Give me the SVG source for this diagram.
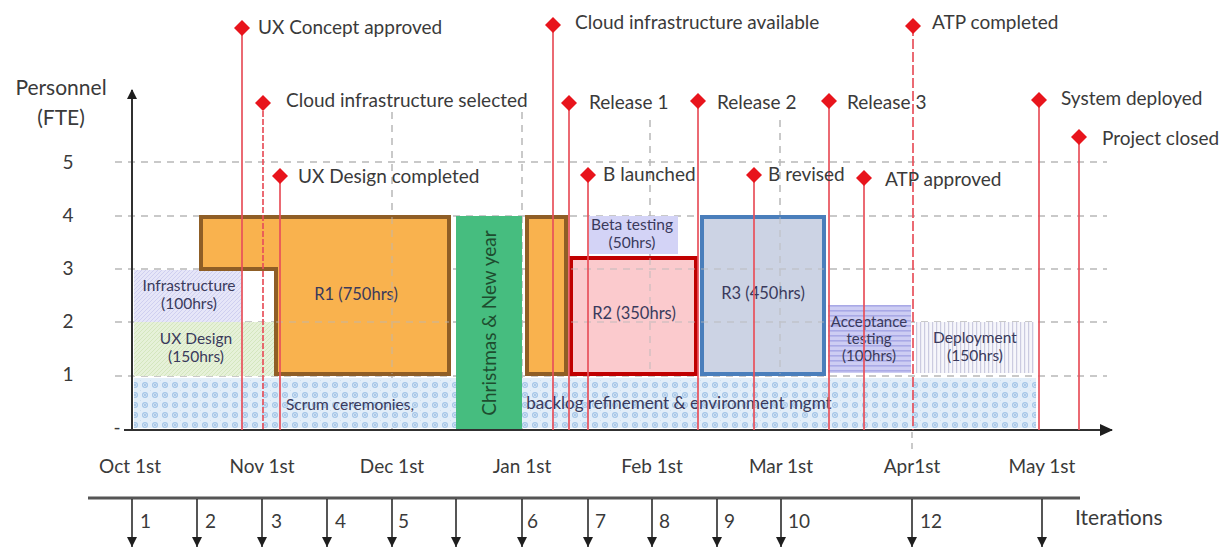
<svg xmlns="http://www.w3.org/2000/svg" width="1230" height="548" viewBox="0 0 1230 548">
  <style>
    .lbl { font-family: Lato, "Liberation Sans", sans-serif; fill: #3a3a3a; }
    .ms { font-size: 19px; }
    .axis { font-size: 19px; }
    .box { font-family: Lato, "Liberation Sans", sans-serif; font-size: 15.5px; fill: #3a3a5c; text-anchor: middle; }
    .grid { stroke: #b8b8b8; stroke-width: 1.5; stroke-dasharray: 7 6; fill: none; }
    .mline { stroke: #e8505a; stroke-width: 2; stroke-opacity: 0.85; fill: none; }
    .dash { stroke-dasharray: 10 3; }
    .iter { stroke: #2b2b2b; stroke-width: 1.6; marker-end: url(#headDown); }
  </style>
  <defs>
    <path id="dia" d="M0,-8 L8,0 L0,8 L-8,0Z" fill="#e8141c"/>
    <marker id="headDown" markerWidth="10" markerHeight="10" refX="10" refY="5" orient="auto" markerUnits="userSpaceOnUse">
      <path d="M0,0 L10,5 L0,10Z" fill="#1e1e1e"/>
    </marker>
    <marker id="arrow" markerWidth="14" markerHeight="12" refX="12" refY="6" orient="auto" markerUnits="userSpaceOnUse">
      <path d="M0,0 L13,6 L0,12Z" fill="#1e1e1e"/>
    </marker>
    <marker id="arrowS" markerWidth="10" markerHeight="10" refX="9" refY="5" orient="auto" markerUnits="userSpaceOnUse">
      <path d="M0,0 L10,5 L0,10Z" fill="#1e1e1e"/>
    </marker>
    <pattern id="scrum" width="10" height="10" patternUnits="userSpaceOnUse">
      <rect width="10" height="10" fill="#e2eef9"/>
      <circle cx="5" cy="5" r="2.4" fill="none" stroke="#a4c6e8" stroke-width="1.2"/>
      <circle cx="5" cy="5" r="0.9" fill="#94b8de"/>
      <circle cx="0" cy="0" r="0.8" fill="#b4d0ec"/>
    </pattern>
    <pattern id="infra" width="4" height="4" patternUnits="userSpaceOnUse">
      <rect width="4" height="4" fill="#e6e6f8"/>
      <path d="M0,4 L4,0" stroke="#c9c9ee" stroke-width="0.8"/>
    </pattern>
    <pattern id="uxd" width="4" height="4" patternUnits="userSpaceOnUse">
      <rect width="4" height="4" fill="#e6f1d9"/>
      <path d="M0,4 L4,0" stroke="#cfe3b8" stroke-width="0.8"/>
    </pattern>
    <pattern id="accept" width="6" height="5" patternUnits="userSpaceOnUse">
      <rect width="6" height="5" fill="#cdcdf3"/>
      <rect y="0" width="6" height="1.6" fill="#a9a9e6"/>
    </pattern>
    <pattern id="deploy" width="4" height="6" patternUnits="userSpaceOnUse">
      <rect width="4" height="6" fill="#f6f6fb"/>
      <rect x="0" width="1.2" height="6" fill="#cbcbe0"/>
    </pattern>
  </defs>

  <rect width="1230" height="548" fill="#ffffff"/>

  <!-- background grid -->
  <g id="grid">
    <line class="grid" x1="115" y1="162" x2="1107" y2="162"/>
    <line class="grid" x1="115" y1="216" x2="1107" y2="216"/>
    <line class="grid" x1="115" y1="269" x2="1107" y2="269"/>
    <line class="grid" x1="115" y1="322" x2="1107" y2="322"/>
    <line class="grid" x1="115" y1="376" x2="1107" y2="376"/>
    <line class="grid" x1="392" y1="112" x2="392" y2="430"/>
    <line class="grid" x1="522" y1="112" x2="522" y2="430"/>
    <line class="grid" x1="650" y1="120" x2="650" y2="430"/>
    <line class="grid" x1="780" y1="120" x2="780" y2="430"/>
  </g>

  <!-- work packages -->
  <g id="scrum-band">
    <rect x="134" y="378" width="902" height="50" fill="url(#scrum)"/>
    <text class="box" x="350" y="410" style="font-size:15.5px">Scrum ceremonies,</text>
    <text class="box" x="679" y="409" style="font-size:17px">backlog refinement &amp; environment mgmt</text>
  </g>
  <g id="infrastructure">
    <rect x="134" y="270" width="108" height="52" fill="url(#infra)"/>
    <text class="box" x="189" y="291">Infrastructure</text>
    <text class="box" x="189" y="309">(100hrs)</text>
  </g>
  <g id="ux-design">
    <rect x="134" y="322" width="140" height="54" fill="url(#uxd)"/>
    <text class="box" x="196" y="344">UX Design</text>
    <text class="box" x="196" y="362">(150hrs)</text>
  </g>
  <g id="r1">
    <path d="M201,217 L449,217 L449,374 L276,374 L276,269 L201,269Z" fill="#f9b24e" stroke="#8f5e26" stroke-width="4" stroke-linejoin="miter"/>
    <text class="box" x="356" y="300" style="font-size:16.5px">R1 (750hrs)</text>
  </g>
  <g id="holidays">
    <rect x="456" y="216" width="66" height="214" fill="#46bd7f"/>
    <text class="box" transform="translate(496 323) rotate(-90)" style="font-size:19px;fill:#1e4d2f">Christmas &amp; New year</text>
  </g>
  <g id="r1-tail">
    <rect x="527" y="217" width="39" height="157" fill="#f9b24e" stroke="#8f5e26" stroke-width="4"/>
  </g>
  <g id="beta-testing">
    <rect x="589" y="216" width="89" height="38" fill="#d3d3f6"/>
    <text class="box" x="632" y="230">Beta testing</text>
    <text class="box" x="632" y="248">(50hrs)</text>
  </g>
  <g id="r2">
    <rect x="571" y="258" width="125" height="116" fill="#fbcacd" stroke="#c00000" stroke-width="4"/>
    <text class="box" x="634" y="319" style="font-size:16.5px">R2 (350hrs)</text>
  </g>
  <g id="r3">
    <rect x="702" y="217" width="122" height="157" fill="#ccd3e4" stroke="#4a7ebb" stroke-width="4"/>
    <text class="box" x="763" y="299" style="font-size:16.5px">R3 (450hrs)</text>
  </g>
  <g id="acceptance-testing">
    <rect x="828" y="305" width="83" height="68" fill="url(#accept)"/>
    <text class="box" x="869" y="327" style="font-size:15px">Acceptance</text>
    <text class="box" x="869" y="344" style="font-size:15px">testing</text>
    <text class="box" x="869" y="361" style="font-size:15px">(100hrs)</text>
  </g>
  <g id="deployment">
    <rect x="916" y="322" width="118" height="51" fill="url(#deploy)"/>
    <text class="box" x="975" y="343">Deployment</text>
    <text class="box" x="975" y="361">(150hrs)</text>
  </g>

  <!-- grid seen through the release boxes -->
  <g id="grid-over" opacity="0.55">
    <line class="grid" x1="276" y1="322" x2="449" y2="322"/>
    <line class="grid" x1="392" y1="217" x2="392" y2="374"/>
    <line class="grid" x1="571" y1="269" x2="824" y2="269"/>
    <line class="grid" x1="571" y1="322" x2="824" y2="322"/>
    <line class="grid" x1="650" y1="258" x2="650" y2="374"/>
    <line class="grid" x1="780" y1="217" x2="780" y2="374"/>
  </g>

  <!-- axes -->
  <g id="axes">
    <line x1="132" y1="430" x2="132" y2="90" stroke="#303030" stroke-width="2" marker-end="url(#arrowS)"/>
    <line x1="124" y1="430" x2="1112" y2="430" stroke="#303030" stroke-width="2" marker-end="url(#arrow)"/>
    <text class="lbl" x="61" y="95" text-anchor="middle" style="font-size:21px">Personnel</text>
    <text class="lbl" x="61" y="125" text-anchor="middle" style="font-size:21px">(FTE)</text>
    <text class="lbl axis" x="68" y="169" text-anchor="middle">5</text>
    <text class="lbl axis" x="68" y="222" text-anchor="middle">4</text>
    <text class="lbl axis" x="68" y="275" text-anchor="middle">3</text>
    <text class="lbl axis" x="68" y="328" text-anchor="middle">2</text>
    <text class="lbl axis" x="68" y="381" text-anchor="middle">1</text>
    <text class="lbl axis" x="117" y="434" text-anchor="middle">-</text>
    <line x1="912" y1="432" x2="912" y2="452" stroke="#b8b8b8" stroke-width="1.5" stroke-dasharray="6 5"/>
  </g>

  <!-- milestones -->
  <g id="connectors">
    <line class="mline" x1="242" y1="28" x2="242" y2="430"/>
    <line class="mline" x1="263" y1="103" x2="263" y2="430" stroke-dasharray="6 2"/>
    <line class="mline" x1="280" y1="176" x2="280" y2="430"/>
    <line class="mline" x1="553" y1="25" x2="553" y2="430"/>
    <line class="mline" x1="569" y1="103" x2="569" y2="430"/>
    <line class="mline" x1="588" y1="175" x2="588" y2="430"/>
    <line class="mline" x1="698" y1="101" x2="698" y2="430"/>
    <line class="mline" x1="754" y1="175" x2="754" y2="430"/>
    <line class="mline" x1="829" y1="101" x2="829" y2="430"/>
    <line class="mline" x1="864" y1="178" x2="864" y2="430"/>
    <line class="mline dash" x1="913" y1="26" x2="913" y2="430"/>
    <line class="mline" x1="1039" y1="100" x2="1039" y2="430"/>
    <line class="mline" x1="1079" y1="137" x2="1079" y2="430"/>
  </g>
  <g id="m-ux-concept"><use href="#dia" x="242" y="28"/><text class="lbl ms" x="258" y="34">UX Concept approved</text></g>
  <g id="m-cloud-selected"><use href="#dia" x="263" y="103"/><text class="lbl ms" x="286" y="107">Cloud infrastructure selected</text></g>
  <g id="m-ux-design"><use href="#dia" x="280" y="176"/><text class="lbl ms" x="298" y="183">UX Design completed</text></g>
  <g id="m-cloud-available"><use href="#dia" x="553" y="25"/><text class="lbl ms" x="575" y="29">Cloud infrastructure available</text></g>
  <g id="m-release1"><use href="#dia" x="569" y="103"/><text class="lbl ms" x="589" y="109">Release 1</text></g>
  <g id="m-b-launched"><use href="#dia" x="588" y="175"/><text class="lbl ms" x="603" y="181">B launched</text></g>
  <g id="m-release2"><use href="#dia" x="698" y="101"/><text class="lbl ms" x="717" y="109">Release 2</text></g>
  <g id="m-b-revised"><use href="#dia" x="754" y="175"/><text class="lbl ms" x="768" y="181">B revised</text></g>
  <g id="m-release3"><use href="#dia" x="829" y="101"/><text class="lbl ms" x="847" y="109">Release 3</text></g>
  <g id="m-atp-approved"><use href="#dia" x="864" y="178"/><text class="lbl ms" x="885" y="186">ATP approved</text></g>
  <g id="m-atp-completed"><use href="#dia" x="913" y="26"/><text class="lbl ms" x="932" y="29">ATP completed</text></g>
  <g id="m-system-deployed"><use href="#dia" x="1039" y="100"/><text class="lbl ms" x="1061" y="105">System deployed</text></g>
  <g id="m-project-closed"><use href="#dia" x="1079" y="137"/><text class="lbl ms" x="1102" y="145">Project closed</text></g>

  <!-- calendar -->
  <g id="months" class="lbl axis" text-anchor="middle">
    <text x="130" y="473">Oct 1st</text>
    <text x="262" y="473">Nov 1st</text>
    <text x="392" y="473">Dec 1st</text>
    <text x="522" y="473">Jan 1st</text>
    <text x="652" y="473">Feb 1st</text>
    <text x="781" y="473">Mar 1st</text>
    <text x="912" y="473">Apr1st</text>
    <text x="1042" y="473">May 1st</text>
  </g>

  <!-- iterations -->
  <g id="iterations">
    <line x1="88" y1="498" x2="1080" y2="498" stroke="#555555" stroke-width="3"/>
    <line class="iter" x1="132" y1="499" x2="132" y2="547"/>
    <line class="iter" x1="197" y1="499" x2="197" y2="547"/>
    <line class="iter" x1="262" y1="499" x2="262" y2="547"/>
    <line class="iter" x1="327" y1="499" x2="327" y2="547"/>
    <line class="iter" x1="392" y1="499" x2="392" y2="547"/>
    <line class="iter" x1="456" y1="499" x2="456" y2="547"/>
    <line class="iter" x1="522" y1="499" x2="522" y2="547"/>
    <line class="iter" x1="588" y1="499" x2="588" y2="547"/>
    <line class="iter" x1="652" y1="499" x2="652" y2="547"/>
    <line class="iter" x1="717" y1="499" x2="717" y2="547"/>
    <line class="iter" x1="781" y1="499" x2="781" y2="547"/>
    <line class="iter" x1="912" y1="499" x2="912" y2="547"/>
    <line class="iter" x1="1042" y1="499" x2="1042" y2="547"/>
    <g class="lbl axis">
      <text x="140" y="528">1</text>
      <text x="205" y="528">2</text>
      <text x="271" y="528">3</text>
      <text x="335" y="528">4</text>
      <text x="398" y="528">5</text>
      <text x="527" y="528">6</text>
      <text x="595" y="528">7</text>
      <text x="659" y="528">8</text>
      <text x="724" y="528">9</text>
      <text x="788" y="528">10</text>
      <text x="920" y="528">12</text>
      <text x="1075" y="525" style="font-size:21px">Iterations</text>
    </g>
  </g>
</svg>
